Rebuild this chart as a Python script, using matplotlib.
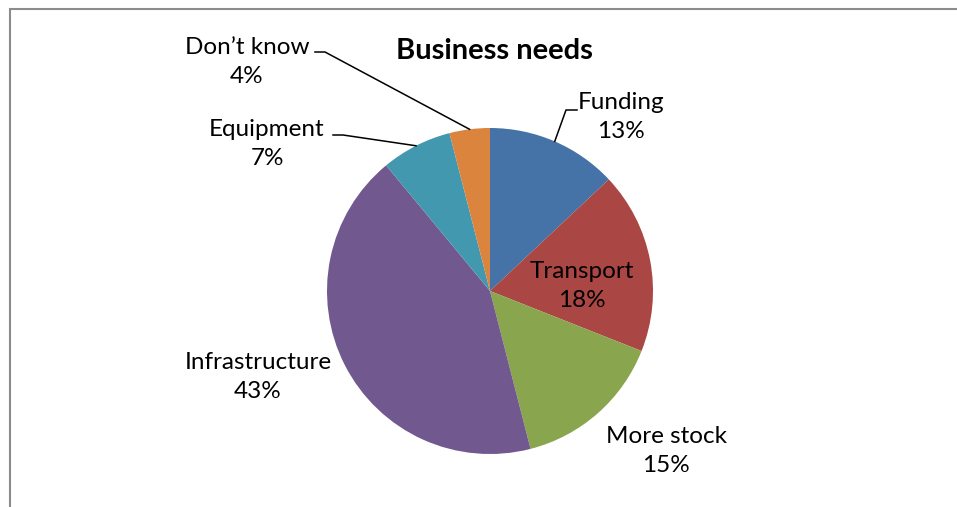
import numpy as np
import matplotlib
matplotlib.use("Agg")
import matplotlib.pyplot as plt
from matplotlib.patches import Rectangle

# Survey answers: what the business needs most
categories = ["Funding", "Transport", "More stock", "Infrastructure", "Equipment", "Don\u2019t know"]
shares = [13, 18, 15, 43, 7, 4]
colors = ["#4572A7", "#AA4643", "#89A54E", "#71588F", "#4198AF", "#DB843D"]

W, H = 957, 507
plt.rcParams["font.family"] = ["Lato", "DejaVu Sans"]

fig = plt.figure(figsize=(W / 100, H / 100), dpi=100)
ax = fig.add_axes([0, 0, 1, 1])

cx, cy, r = 490, H - 291, 163
wedges, _ = ax.pie(shares, colors=colors, startangle=90, counterclock=False,
                   center=(cx, cy), radius=r, frame=True,
                   wedgeprops=dict(linewidth=0))
ax.set_xlim(0, W)
ax.set_ylim(0, H)
ax.axis("off")

# chart frame, only left and top edges fall inside the image
ax.add_patch(Rectangle((9.5, -20), W + 40, H - 8.5 + 20, fill=False,
                       edgecolor="#8c8c8c", linewidth=1.5, zorder=0))

ax.text(494, H - 51, "Business needs", ha="center", va="center",
        fontsize=21, fontweight="bold")

# label anchor (pixel coords, y down) and leader elbow, or None when no leader
label_pos = {
    "Funding": ((621, 117), (577, 110), (566, 110)),
    "Transport": ((582, 286), None, None),
    "More stock": ((666, 451), None, None),
    "Infrastructure": ((258, 377), None, None),
    "Equipment": ((267, 144), (333, 135), (343, 135)),
    "Don\u2019t know": ((247, 62), (315, 52), (325, 52)),
}

for w, cat, val in zip(wedges, categories, shares):
    (lx, ly), p0, p1 = label_pos[cat]
    ax.text(lx, H - ly, f"{cat}\n{val}%", ha="center", va="center",
            fontsize=17.5, linespacing=1.5, color="black")
    if p0 is not None:
        mid = np.deg2rad((w.theta1 + w.theta2) / 2)
        ex, ey = cx + r * np.cos(mid), cy + r * np.sin(mid)
        ax.plot([p0[0], p1[0], ex], [H - p0[1], H - p1[1], ey],
                color="black", linewidth=1.1)

fig.savefig("out.png", dpi=100, facecolor="white")
